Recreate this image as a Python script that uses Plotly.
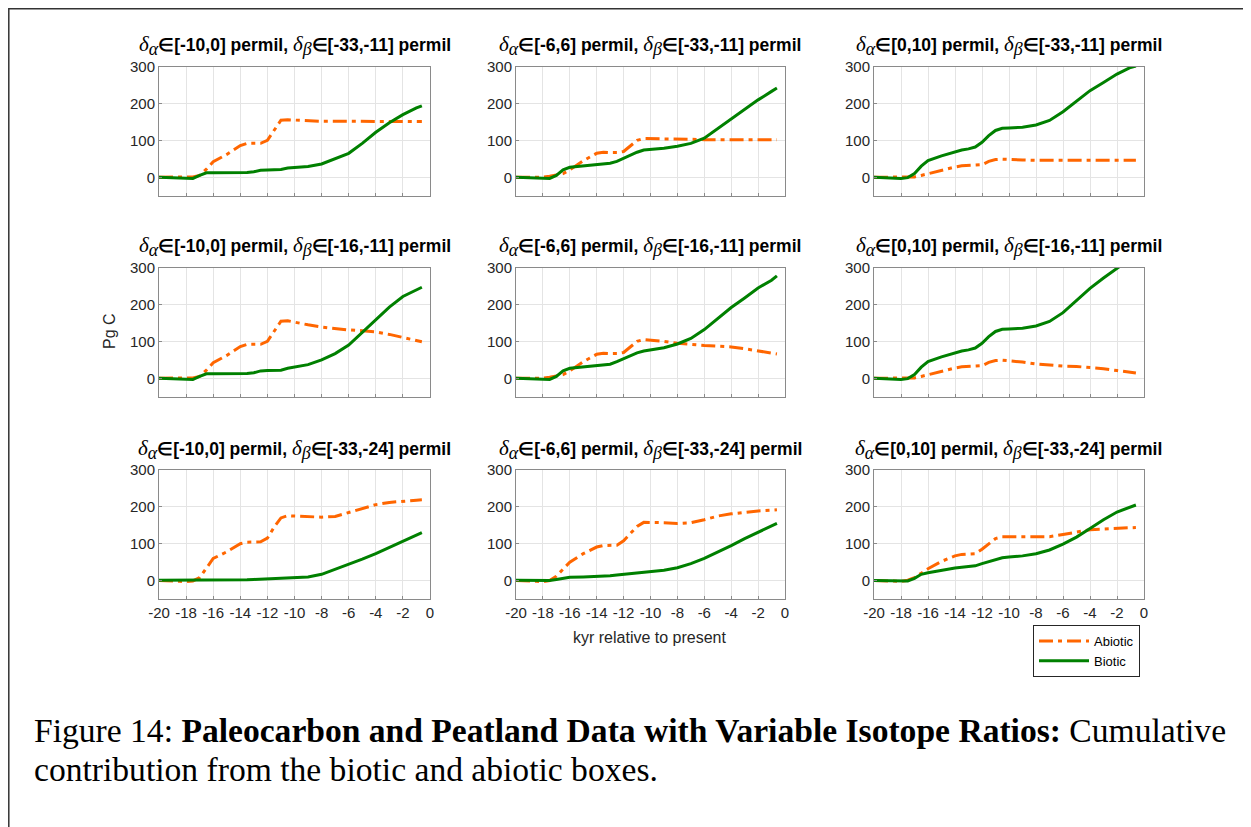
import plotly.graph_objects as go

# ---------------- data ----------------
kyr = [-20, -19, -18.5, -18, -17.5, -17, -16.5, -16, -15, -14, -13.5, -13, -12.5, -12,
       -11.5, -11, -10.5, -10, -9, -8, -7, -6, -5, -4, -3, -2, -1, -0.6]

alpha_ranges = ["[-10,0]", "[-6,6]", "[0,10]"]          # columns
beta_ranges = ["[-33,-11]", "[-16,-11]", "[-33,-24]"]    # rows

# row 1 : beta in [-33,-11]
abiotic_r1c1 = [0, 0, 0, 0, 1, 5, 22, 42, 62, 86, 92, 92, 92, 100, 128, 155, 156, 155, 153, 152, 152, 152, 151, 151, 151, 151, 151, 151]
biotic_r1c1 = [0, -1, -3, -3, -3, 5, 12, 12, 12, 12, 13, 15, 19, 20, 20, 21, 25, 26, 29, 36, 50, 65, 92, 122, 148, 170, 188, 194]
abiotic_r1c2 = [0, 0, 0, 0, 3, 6, 10, 20, 45, 65, 68, 67, 67, 70, 85, 100, 105, 105, 104, 103, 103, 102, 102, 102, 102, 102, 102, 102]
biotic_r1c2 = [0, -1, -3, -3, -3, 5, 20, 27, 31, 34, 36, 38, 43, 52, 60, 68, 74, 75, 79, 84, 92, 106, 132, 160, 185, 210, 233, 242]
abiotic_r1c3 = [0, 0, 0, 0, 0, 1, 5, 10, 19, 28, 31, 32, 31, 34, 43, 48, 49, 49, 47, 46, 46, 46, 46, 46, 46, 46, 46, 46]
biotic_r1c3 = [0, -1, -3, -3, -1, 10, 30, 45, 58, 70, 74, 77, 82, 95, 113, 127, 133, 134, 136, 142, 154, 178, 207, 235, 257, 280, 298, 302]

# row 2 : beta in [-16,-11]
abiotic_r2c1 = [0, 0, 0, 0, 1, 5, 22, 42, 62, 86, 92, 92, 92, 100, 128, 155, 156, 152, 145, 139, 134, 131, 129, 126, 119, 111, 103, 99]
biotic_r2c1 = [0, -1, -3, -3, -3, 5, 12, 12, 12, 12, 13, 15, 20, 21, 21, 22, 27, 30, 37, 50, 67, 90, 125, 160, 193, 222, 241, 247]
abiotic_r2c2 = [0, 0, 0, 0, 3, 6, 10, 20, 45, 65, 68, 67, 67, 70, 85, 100, 105, 104, 100, 95, 91, 89, 87, 85, 80, 75, 69, 66]
biotic_r2c2 = [0, -1, -3, -3, -3, 5, 20, 27, 31, 34, 36, 38, 45, 53, 61, 69, 74, 77, 83, 93, 108, 132, 163, 192, 218, 245, 266, 278]
abiotic_r2c3 = [0, 0, 0, 0, 0, 1, 5, 10, 19, 28, 31, 32, 31, 34, 43, 48, 49, 48, 44, 39, 35, 33, 32, 30, 26, 21, 16, 14]
biotic_r2c3 = [0, -1, -3, -3, -1, 10, 30, 45, 58, 70, 74, 77, 82, 95, 113, 127, 133, 134, 136, 142, 154, 178, 212, 244, 272, 299, 325, 335]

# row 3 : beta in [-33,-24]
abiotic_r3c1 = [0, 0, -2, -3, -1, 8, 35, 60, 78, 100, 104, 104, 105, 115, 145, 170, 176, 175, 173, 172, 174, 185, 197, 206, 212, 216, 218, 219]
biotic_r3c1 = [1, 1, 0, 0, 0, 0, 0, 0, 0, 1, 2, 3, 4, 5, 5, 5, 6, 7, 10, 17, 30, 44, 58, 73, 90, 107, 123, 130]
abiotic_r3c2 = [0, 0, -2, -3, 0, 12, 32, 50, 73, 91, 95, 95, 96, 108, 128, 147, 158, 158, 157, 155, 157, 165, 175, 181, 186, 189, 191, 192]
biotic_r3c2 = [1, 1, 0, 0, 0, 3, 7, 9, 10, 11, 12, 13, 15, 17, 19, 21, 23, 24, 28, 35, 46, 60, 77, 95, 114, 132, 149, 155]
abiotic_r3c3 = [0, 0, -1, -2, 1, 8, 20, 32, 52, 67, 71, 72, 73, 85, 100, 114, 119, 119, 118, 117, 119, 125, 131, 138, 140, 142, 143, 144]
biotic_r3c3 = [0, -1, -2, -2, -1, 6, 17, 21, 28, 34, 36, 37, 40, 46, 52, 58, 62, 64, 67, 73, 83, 99, 118, 141, 165, 186, 200, 205]

abiotic = [abiotic_r1c1, abiotic_r1c2, abiotic_r1c3,
           abiotic_r2c1, abiotic_r2c2, abiotic_r2c3,
           abiotic_r3c1, abiotic_r3c2, abiotic_r3c3]
biotic = [biotic_r1c1, biotic_r1c2, biotic_r1c3,
          biotic_r2c1, biotic_r2c2, biotic_r2c3,
          biotic_r3c1, biotic_r3c2, biotic_r3c3]

x_ticks = list(range(-20, 1, 2))
x_ticktext = [str(v) for v in x_ticks]
y_ticks = [0, 100, 200, 300]
y_ticktext = [str(v) for v in y_ticks]

# ---------------- layout ----------------
W, H = 1251, 827
OFF = 8  # page body margin


def fx(px):
    return (px - OFF) / W


def fy(py):
    return 1 - (py - OFF) / H


col_px = [(159, 430), (516, 785), (874, 1144)]
row_px = [(66.7, 195.7), (267.7, 396.7), (470, 599)]

ORANGE = "#FF6600"
GREEN = "#008000"
AX = "#8a8a8a"
TXT = "#262626"
SANS = "Liberation Sans, Arial, sans-serif"

fig = go.Figure()
layout = dict(width=W, height=H, margin=dict(l=0, r=0, t=0, b=0, pad=0, autoexpand=False),
              paper_bgcolor="white", plot_bgcolor="white",
              font=dict(family=SANS, color=TXT, size=14))
annotations = []

for i in range(9):
    r, c = divmod(i, 3)
    n = "" if i == 0 else str(i + 1)
    x0, x1 = col_px[c]
    y0, y1 = row_px[r]
    layout["xaxis" + n] = dict(
        domain=[fx(x0), fx(x1)], range=[-20, 0], anchor="y" + n, automargin=False,
        tickvals=x_ticks, ticktext=x_ticktext, showticklabels=(r == 2),
        showgrid=True, gridcolor="#e4e4e4", gridwidth=1,
        showline=True, mirror=True, linecolor=AX, linewidth=1,
        ticks="inside", ticklen=3, tickcolor=AX, zeroline=False,
        tickfont=dict(size=15, color=TXT, family=SANS))
    layout["yaxis" + n] = dict(
        domain=[fy(y1), fy(y0)], range=[-50, 300], anchor="x" + n, automargin=False,
        tickvals=y_ticks, ticktext=y_ticktext, showgrid=True, gridcolor="#e4e4e4", gridwidth=1,
        showline=True, mirror=True, linecolor=AX, linewidth=1,
        ticks="inside", ticklen=3, tickcolor=AX, zeroline=False,
        tickfont=dict(size=15, color=TXT, family=SANS))

    fig.add_trace(go.Scatter(
        x=kyr, y=abiotic[i], mode="lines", name="Abiotic",
        line=dict(color=ORANGE, width=3, dash="14px,5px,4px,5px"),
        xaxis="x" + n, yaxis="y" + n, showlegend=(i == 0), legendrank=1))
    fig.add_trace(go.Scatter(
        x=kyr, y=biotic[i], mode="lines", name="Biotic",
        line=dict(color=GREEN, width=3),
        xaxis="x" + n, yaxis="y" + n, showlegend=(i == 0), legendrank=2))

    title = ('<span style="font-family:Liberation Serif;font-size:21px"><i>δ</i></span>'
             '<sub><span style="font-family:Liberation Serif;font-size:18px"><i>α</i></span></sub>'
             '<b>∈' + alpha_ranges[c] + ' permil, </b>'
             '<span style="font-family:Liberation Serif;font-size:21px"><i>δ</i></span>'
             '<sub><span style="font-family:Liberation Serif;font-size:18px"><i>β</i></span></sub>'
             '<b>∈' + beta_ranges[r] + ' permil</b>')
    annotations.append(dict(
        text=title, x=fx((x0 + x1) / 2), y=fy(y0 - 21),
        xref="paper", yref="paper", xanchor="center", yanchor="middle",
        showarrow=False, font=dict(size=17.5, color="#000000", family=SANS)))

# axis labels
annotations.append(dict(text="kyr relative to present", x=fx((516 + 785) / 2), y=fy(637),
                        xref="paper", yref="paper", xanchor="center", yanchor="middle",
                        showarrow=False, font=dict(size=16, color=TXT, family=SANS)))
annotations.append(dict(text="Pg C", x=fx(110), y=fy(331), textangle=-90,
                        xref="paper", yref="paper", xanchor="center", yanchor="middle",
                        showarrow=False, font=dict(size=16, color=TXT, family=SANS)))

# caption
SERIF = "Liberation Serif, Times New Roman, serif"
annotations.append(dict(
    text="Figure 14: <b>Paleocarbon and Peatland Data with Variable Isotope Ratios:</b> Cumulative",
    x=fx(32), y=fy(730), xref="paper", yref="paper", xanchor="left", yanchor="middle",
    showarrow=False, font=dict(size=33.6, color="#000000", family=SERIF)))
annotations.append(dict(
    text="contribution from the biotic and abiotic boxes.",
    x=fx(32), y=fy(769), xref="paper", yref="paper", xanchor="left", yanchor="middle",
    showarrow=False, font=dict(size=33.6, color="#000000", family=SERIF)))

layout["annotations"] = annotations
layout["legend"] = dict(x=fx(1033), y=fy(625), xanchor="left", yanchor="top",
                        bgcolor="white", bordercolor=TXT, borderwidth=1,
                        font=dict(size=13, color="#000000", family=SANS),
                        tracegroupgap=0, itemwidth=50)
layout["shapes"] = [dict(type="rect", xref="paper", yref="paper",
                         x0=0.8 / W, x1=1.02, y0=-0.02, y1=1 - 0.8 / H,
                         line=dict(color="#333333", width=1.5), fillcolor="rgba(0,0,0,0)")]
layout["showlegend"] = True

fig.update_layout(**layout)
fig.write_html("out.html")
